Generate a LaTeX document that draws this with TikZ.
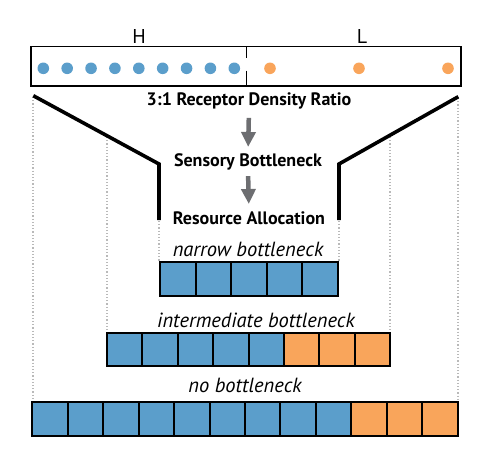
\documentclass[tikz,border=0pt]{standalone}
\usepackage{fontspec}
\setmainfont{PT Sans}
\usetikzlibrary{arrows.meta}
\definecolor{high}{HTML}{5B9ECB}
\definecolor{low}{HTML}{F9A55B}
\definecolor{arrowgray}{HTML}{6D6E71}

\begin{document}
\begin{tikzpicture}[x=1pt, y=-1pt,
    cell/.style={draw=black, line width=2pt, fill=#1},
    funnel/.style={line width=3.6pt, line join=miter},
    guide/.style={gray!55, dotted, line width=1.2pt},
    arr/.style={-{Triangle[length=15pt, width=14pt]}, line width=4.5pt, arrowgray},
    stage/.style={font=\fontsize{18}{20}\selectfont\bfseries, inner sep=0pt, anchor=base},
    level/.style={font=\fontsize{20.5}{23}\selectfont\itshape, inner sep=0pt, anchor=base},
]
\useasboundingbox (0,0) rectangle (485,461);

% Receptor strip
\draw[line width=1.2pt] (31,46.7) rectangle (461,86);
\draw[line width=1.2pt] (246.7,46.7) -- (246.7,58);
\draw[line width=1.2pt] (246.7,70.5) -- (246.7,86);
\node[font=\fontsize{20}{22}\selectfont, inner sep=0pt, anchor=base] (hlabel) at (139,43.3) {H};
\node[font=\fontsize{20}{22}\selectfont, inner sep=0pt, anchor=base] (llabel) at (362,43.3) {L};

\foreach \i in {0,...,8}
    \fill[high] (43.3+23.875*\i, 68.3) circle (5.8);
\foreach \x in {270, 359, 448}
    \fill[low] (\x, 68.3) circle (5.8);

% Guide lines
\draw[guide] (33,97) -- (33,402);
\draw[guide] (107,137) -- (107,333);
\draw[guide] (159,221) -- (159,262);
\draw[guide] (339,221) -- (339,262);
\draw[guide] (390,137) -- (390,333);
\draw[guide] (458,98) -- (458,402);

% Funnel
\draw[funnel] (33.3,95.7) -- (159,164) -- (159,220);
\draw[funnel] (458.3,96.7) -- (339,164) -- (339,220);

% Stages
\node[stage] (ratio) at (249,105) {3:1 Receptor Density Ratio};
\node[stage] (bottleneck) at (248,166.7) {Sensory Bottleneck};
\node[stage] (allocation) at (249,224.3) {Resource Allocation};

\draw[arr, shorten <=9pt, shorten >=6.7pt] (ratio.south) -- (bottleneck.north);
\draw[arr, shorten <=5.5pt, shorten >=7.3pt] (bottleneck.south) -- (allocation.north);

% Allocations
\node[level] (narrow) at (248,256.7) {narrow bottleneck};
\foreach \i in {0,...,4}
    \draw[cell=high] (160.3+35.45*\i, 262.3) rectangle ++(35.45, 33.4);

\node[level] (intermediate) at (256,327.3) {intermediate bottleneck};
\foreach \i in {0,...,4}
    \draw[cell=high] (106.7+35.45*\i, 333.3) rectangle ++(35.45, 32.7);
\foreach \i in {5,...,7}
    \draw[cell=low] (106.7+35.45*\i, 333.3) rectangle ++(35.45, 32.7);

\node[level] (none) at (245,392.3) {no bottleneck};
\foreach \i in {0,...,8}
    \draw[cell=high] (32.3+35.45*\i, 402.3) rectangle ++(35.45, 33.7);
\foreach \i in {9,...,11}
    \draw[cell=low] (32.3+35.45*\i, 402.3) rectangle ++(35.45, 33.7);

\end{tikzpicture}
\end{document}
